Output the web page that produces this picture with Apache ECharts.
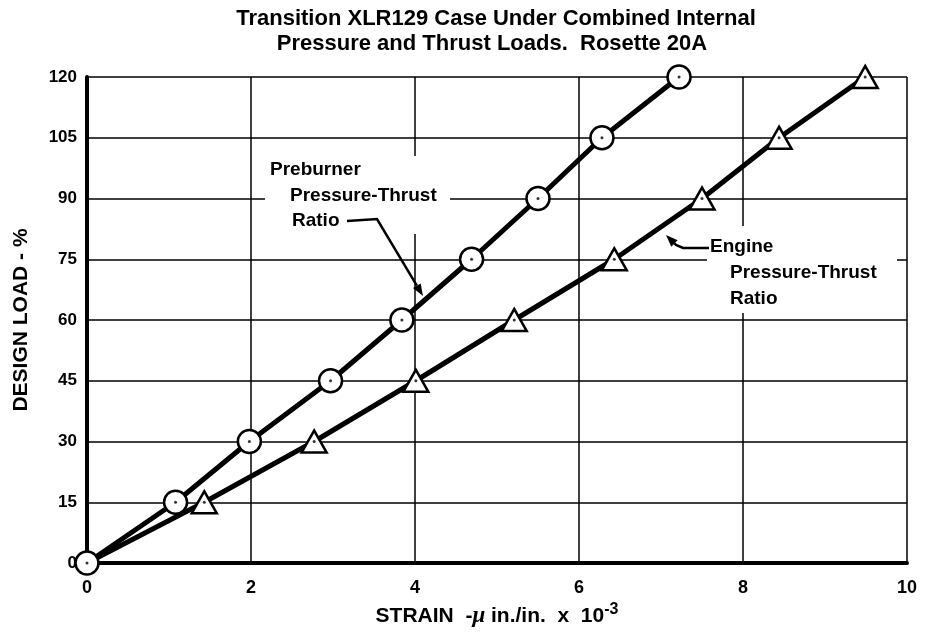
<!DOCTYPE html>
<html>
<head>
<meta charset="utf-8">
<script src="https://cdn.jsdelivr.net/npm/echarts@6/dist/echarts.min.js"></script>
<style>
  html, body { margin: 0; padding: 0; background: #fff; }
  #chart { width: 930px; height: 644px; }
</style>
</head>
<body>
<div id="chart"></div>
<script>
// Design load (%) at each measured point
const designLoad = [0, 15, 30, 45, 60, 75, 90, 105, 120];
// Strain (micro-in./in. x 10^-3), preburner pressure-thrust ratio
const preburnerStrain = [0, 1.08, 1.98, 2.97, 3.84, 4.69, 5.50, 6.28, 7.22];
// Strain (micro-in./in. x 10^-3), engine pressure-thrust ratio
const engineStrain = [0, 1.43, 2.77, 4.01, 5.21, 6.43, 7.50, 8.44, 9.49];
// Axis ticks
const strainTicks = [0, 2, 4, 6, 8, 10];
const loadTicks = [0, 15, 30, 45, 60, 75, 90, 105, 120];

const FONT = '"Liberation Sans", Arial, Helvetica, sans-serif';
const INK = '#000';

const preburnerData = preburnerStrain.map((x, i) => [x, designLoad[i]]);
const engineData = engineStrain.map((x, i) => {
  const item = { value: [x, designLoad[i]] };
  if (i === 0) item.symbol = 'none';
  return item;
});

// Leader line with an arrowhead at its last point
function leader(points, z) {
  const n = points.length;
  const tip = points[n - 1], prev = points[n - 2];
  const dx = tip[0] - prev[0], dy = tip[1] - prev[1];
  const len = Math.hypot(dx, dy);
  const ux = dx / len, uy = dy / len;
  const L = 12, W = 4.5;
  const bx = tip[0] - ux * L, by = tip[1] - uy * L;
  return [
    { type: 'polyline', z: z, shape: { points: points.slice(0, n - 1).concat([[bx, by]]) },
      style: { stroke: INK, lineWidth: 2.5, fill: null } },
    { type: 'polygon', z: z, shape: { points: [tip, [bx - uy * W, by + ux * W], [bx + uy * W, by - ux * W]] },
      style: { fill: INK } }
  ];
}

function label(text, x, y, z) {
  return { type: 'text', x: x, y: y, z: z,
    style: { text: text, font: 'bold 19px ' + FONT, fill: INK, textVerticalAlign: 'middle' } };
}

const chart = echarts.init(document.getElementById('chart'), null, { renderer: 'canvas' });

const graphics = [
  // title
  { type: 'text', x: 496, y: 19, z: 5,
    style: { text: 'Transition XLR129 Case Under Combined Internal', font: 'bold 22px ' + FONT,
      fill: INK, textAlign: 'center', textVerticalAlign: 'middle' } },
  { type: 'text', x: 492, y: 44, z: 5,
    style: { text: 'Pressure and Thrust Loads.  Rosette 20A', font: 'bold 22px ' + FONT,
      fill: INK, textAlign: 'center', textVerticalAlign: 'middle' } },
  // label backgrounds over the grid
  { type: 'rect', z: 1, shape: { x: 265, y: 156, width: 185, height: 78 }, style: { fill: '#fff' } },
  { type: 'rect', z: 1, shape: { x: 707, y: 226, width: 190, height: 87 }, style: { fill: '#fff' } },
  label('Preburner', 270, 170, 2),
  label('Pressure-Thrust', 290, 196, 2),
  label('Ratio', 292, 221, 2),
  label('Engine', 710, 247, 2),
  label('Pressure-Thrust', 730, 273, 2),
  label('Ratio', 730, 299, 2)
].concat(
  leader([[347, 221], [377, 219], [423, 296]], 2),
  leader([[709, 248], [683, 248], [676, 245], [666, 235]], 2)
);

chart.setOption({
  animation: false,
  backgroundColor: '#fff',
  grid: { left: 87, right: 23, top: 77, bottom: 81, show: false },
  xAxis: {
    type: 'value', min: 0, max: 10, interval: 2,
    name: 'STRAIN  -{mu|μ} in./in.  x  10{sup|-3}',
    nameLocation: 'middle', nameGap: 36,
    nameTextStyle: {
      fontFamily: FONT, fontWeight: 'bold', fontSize: 21, color: INK,
      rich: {
        mu: { fontFamily: 'serif', fontStyle: 'italic', fontWeight: 'bold', fontSize: 23, color: INK },
        sup: { fontFamily: FONT, fontWeight: 'bold', fontSize: 16, color: INK, verticalAlign: 'top', padding: [0, 0, 12, 0] }
      }
    },
    axisLine: { show: true, onZero: false, lineStyle: { color: INK, width: 4 } },
    axisTick: { show: false },
    axisLabel: {
      margin: 16, fontFamily: FONT, fontWeight: 'bold', fontSize: 18, color: INK,
      formatter: v => strainTicks.includes(v) ? String(v) : ''
    },
    splitLine: { show: true, lineStyle: { color: INK, width: 1.5 } }
  },
  yAxis: {
    type: 'value', min: 0, max: 120, interval: 15,
    name: 'DESIGN LOAD - %',
    nameLocation: 'middle', nameGap: 55, nameRotate: 90,
    nameTextStyle: { fontFamily: FONT, fontWeight: 'bold', fontSize: 21, color: INK },
    axisLine: { show: true, onZero: false, lineStyle: { color: INK, width: 4 } },
    axisTick: { show: false },
    axisLabel: {
      margin: 10, fontFamily: FONT, fontWeight: 'bold', fontSize: 17, color: INK,
      formatter: v => loadTicks.includes(v) ? String(v) : ''
    },
    splitLine: { show: true, lineStyle: { color: INK, width: 1.5 } }
  },
  graphic: graphics,
  series: [
    {
      name: 'Engine Pressure-Thrust Ratio',
      type: 'line', data: engineData, z: 3,
      symbol: 'triangle', symbolSize: [25, 22], showAllSymbol: true,
      lineStyle: { color: INK, width: 5 },
      itemStyle: { color: '#fff', borderColor: INK, borderWidth: 2.5 }
    },
    {
      name: 'Preburner Pressure-Thrust Ratio',
      type: 'line', data: preburnerData, z: 4,
      symbol: 'circle', symbolSize: 23, showAllSymbol: true,
      lineStyle: { color: INK, width: 5 },
      itemStyle: { color: '#fff', borderColor: INK, borderWidth: 2.5 }
    },
    {
      name: 'engine centres', type: 'scatter', z: 6,
      data: engineData.slice(1).map(d => d.value),
      symbol: 'circle', symbolSize: 3, itemStyle: { color: INK }
    },
    {
      name: 'preburner centres', type: 'scatter', z: 6,
      data: preburnerData, symbol: 'circle', symbolSize: 3, itemStyle: { color: INK }
    }
  ]
});
</script>
</body>
</html>
